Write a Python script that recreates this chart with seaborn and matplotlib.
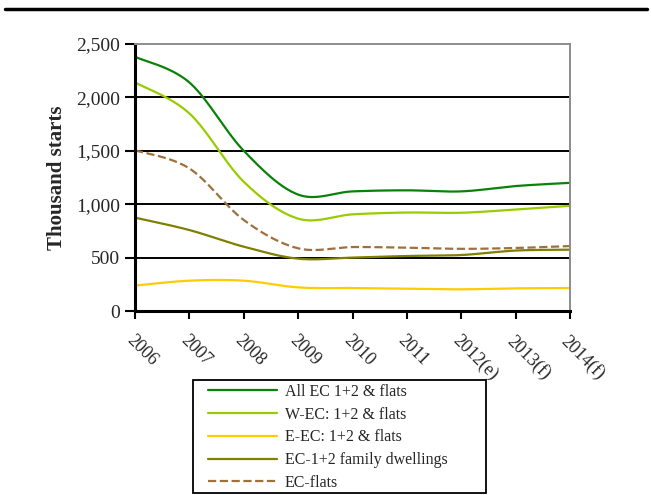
import numpy as np
import pandas as pd
import matplotlib
matplotlib.use("Agg")
import matplotlib.pyplot as plt
from matplotlib.ticker import FuncFormatter
from matplotlib.lines import Line2D
from matplotlib.patches import Rectangle
import seaborn as sns

# data (thousand starts)
years = ["2006", "2007", "2008", "2009", "2010", "2011", "2012(e)", "2013(f)", "2014(f)"]
all_ec = [2380, 2140, 1500, 1090, 1120, 1130, 1120, 1170, 1200]
w_ec = [2140, 1850, 1210, 865, 905, 922, 920, 950, 985]
e_ec = [238, 284, 284, 221, 215, 209, 203, 212, 215]
ec_family = [874, 758, 602, 490, 500, 515, 524, 566, 574]
ec_flats = [1505, 1335, 852, 587, 599, 593, 582, 590, 608]

series = [
    ("All EC 1+2 & flats", all_ec, "#0a820a", "-"),
    ("W-EC: 1+2 & flats", w_ec, "#99cc00", "-"),
    ("E-EC: 1+2 & flats", e_ec, "#ffcc00", "-"),
    ("EC-1+2 family dwellings", ec_family, "#7f7f00", "-"),
    ("EC-flats", ec_flats, "#a0703c", "--"),
]


def smooth(xs, ys, n=40):
    # Excel-like smoothed line: Catmull-Rom segments drawn as cubic Bezier
    pts = np.column_stack([xs, ys]).astype(float)
    p = np.vstack([pts[0], pts, pts[-1]])
    out = []
    t = np.linspace(0, 1, n)[:, None]
    for i in range(1, len(p) - 2):
        p0, p1, p2, p3 = p[i - 1], p[i], p[i + 1], p[i + 2]
        c1 = p1 + (p2 - p0) / 6
        c2 = p2 - (p3 - p1) / 6
        seg = ((1 - t) ** 3) * p1 + 3 * ((1 - t) ** 2) * t * c1 + 3 * (1 - t) * t ** 2 * c2 + t ** 3 * p2
        out.append(seg if i == 1 else seg[1:])
    out = np.vstack(out)
    return out[:, 0], out[:, 1]


sns.set_theme(style="white")
plt.rcParams["font.family"] = ["Liberation Serif", "DejaVu Serif"]

W, H = 651, 495
fig = plt.figure(figsize=(6.51, 4.95), dpi=100)
ax = fig.add_axes([135 / W, 1 - 311 / H, 435 / W, 267 / H])

idx = np.arange(len(years))
handles = []
for name, vals, col, ls in series:
    sx, sy = smooth(idx, vals)
    df = pd.DataFrame({"x": sx, "y": sy})
    sns.lineplot(data=df, x="x", y="y", ax=ax, color=col, linewidth=1.6,
                 linestyle=ls, sort=False, estimator=None)
    handles.append(Line2D([], [], color=col, linewidth=1.6, linestyle=ls, label=name))

ax.set_xlim(0, len(years) - 1)
ax.set_ylim(0, 2500)
ax.set_yticks([0, 500, 1000, 1500, 2000, 2500])
ax.yaxis.set_major_formatter(FuncFormatter(lambda v, _: f"{v:,.0f}"))
ax.set_xticks(idx)
ax.set_xticklabels(years, rotation=-45, ha="left", va="top", rotation_mode="anchor")
for lab in ax.get_xticklabels():
    lab.set_fontsize(13)
ax.tick_params(axis="y", labelsize=14, length=7, width=1.5, color="black", direction="out", pad=4, left=True)
ax.tick_params(axis="x", length=6, width=1.5, color="black", direction="out", pad=9, bottom=True)

for y in [500, 1000, 1500, 2000]:
    ax.axhline(y, color="black", linewidth=1.4, zorder=0)

ax.spines["left"].set_color("black")
ax.spines["left"].set_linewidth(2.2)
ax.spines["bottom"].set_color("black")
ax.spines["bottom"].set_linewidth(2.2)
ax.spines["top"].set_color("#8c8c8c")
ax.spines["top"].set_linewidth(1.4)
ax.spines["right"].set_color("#8c8c8c")
ax.spines["right"].set_linewidth(1.4)

ax.set_xlabel("")
ax.set_ylabel("Thousand starts", fontsize=15, fontweight="bold", labelpad=6)

# legend box drawn separately so the padding can match the reference
fig.add_artist(Rectangle((193 / W, 1 - 493 / H), 293 / W, 113 / H, transform=fig.transFigure,
                         facecolor="white", edgecolor="black", linewidth=1.3, zorder=4))
leg = fig.legend(handles=handles, loc="upper left", bbox_to_anchor=(208 / W, 1 - 384 / H),
                 frameon=False, fontsize=11.5, handlelength=4.3,
                 borderpad=0, labelspacing=0.42, handletextpad=0.5, borderaxespad=0)
leg.set_zorder(5)

# heavy rule at the top of the page
fig.add_artist(Line2D([5 / W, 647 / W], [1 - 9 / H, 1 - 9 / H], color="black", linewidth=2.5))

fig.savefig("out.png", dpi=100)
